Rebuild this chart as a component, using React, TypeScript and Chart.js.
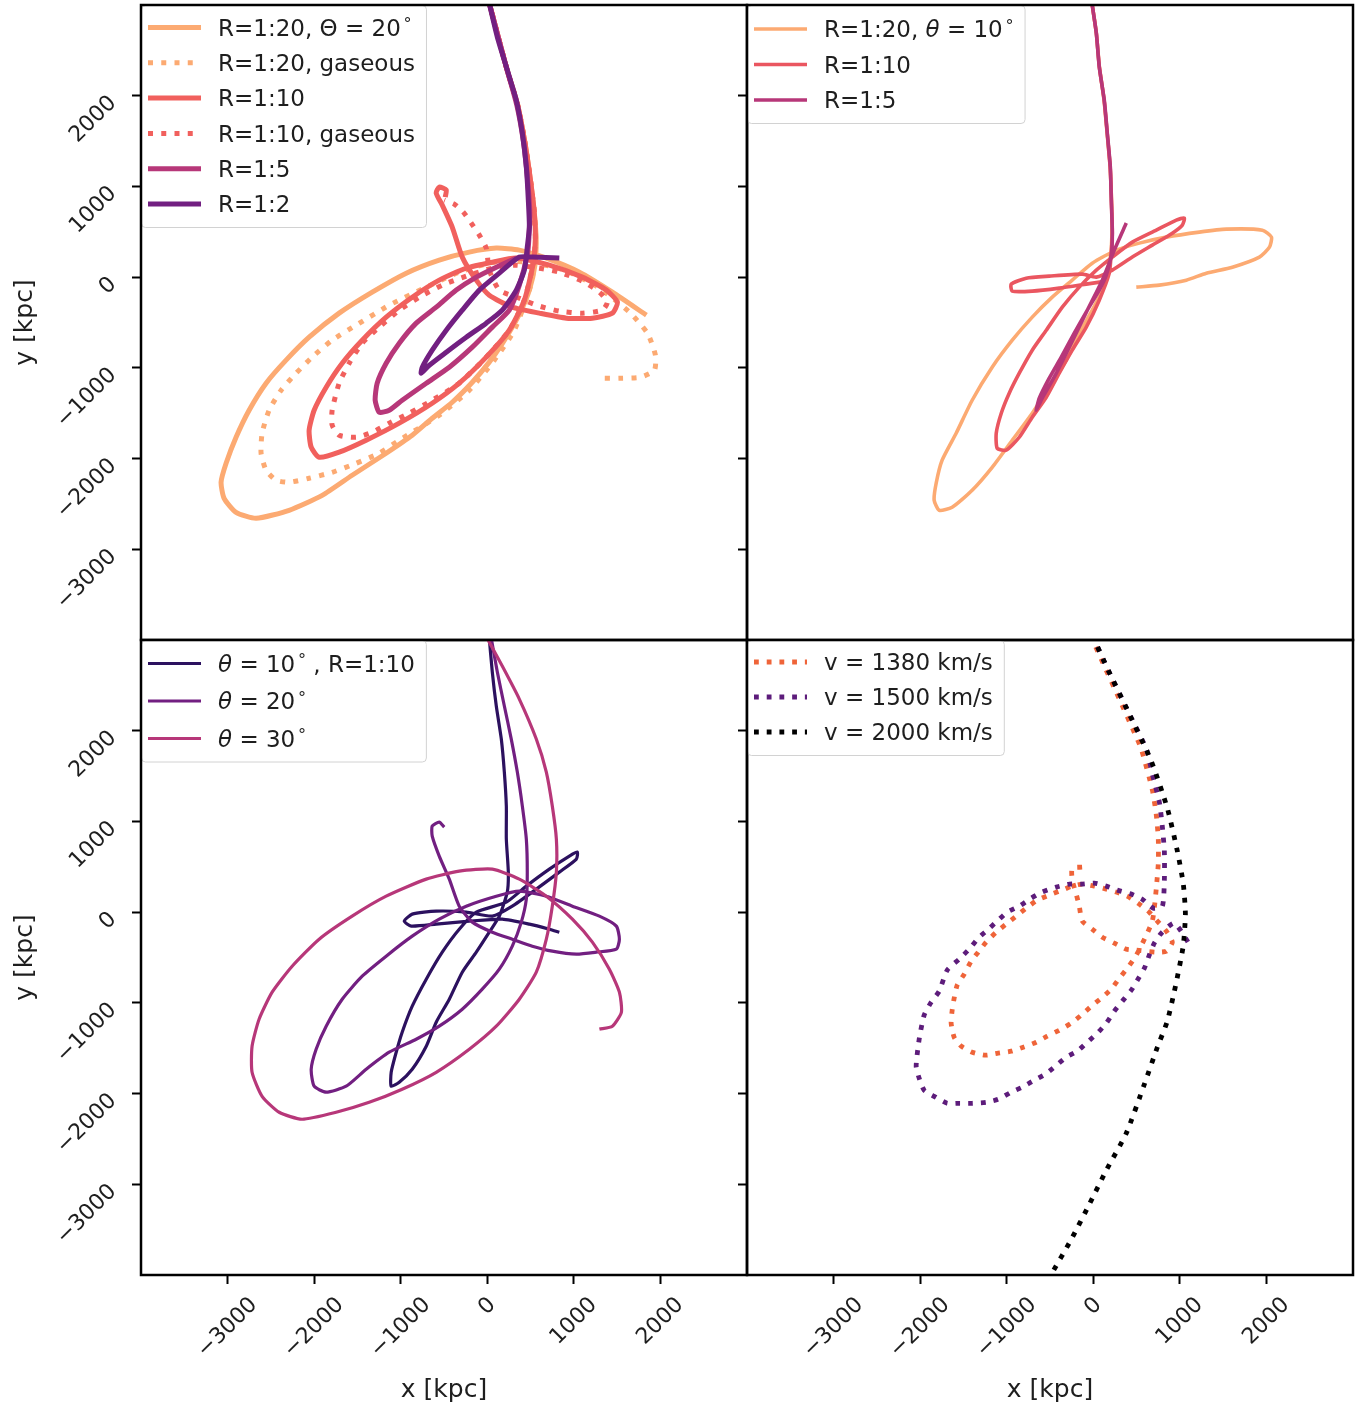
import React, { useEffect, useRef } from "react";
import { Chart, registerables } from "chart.js";

Chart.register(...registerables);

const FONT = "'DejaVu Sans', 'Liberation Sans', sans-serif";
const W = 1358;
const H = 1410;
const AXIS_MIN = -4000;
const AXIS_MAX = 3000;
const TICK_VALUES = [-3000, -2000, -1000, 0, 1000, 2000];
const X_TITLE = "x [kpc]";
const Y_TITLE = "y [kpc]";

type Pt = [number, number];

// ---------- top-left panel: mass ratio, Θ = 20° ----------
const TL_LABELS = ["R=1:20, Θ = 20°", "R=1:20, gaseous", "R=1:10", "R=1:10, gaseous", "R=1:5", "R=1:2"];
const TL_R20: Pt[] = [[15,3050],[120,2670],[230,2280],[350,1900],[430,1510],[490,1130],[540,740],[565,410],[550,130],[486,-143],[393,-364],[289,-551],[162,-750],[23,-937],[-173,-1158],[-405,-1379],[-636,-1555],[-867,-1743],[-1168,-1941],[-1561,-2184],[-1907,-2405],[-2289,-2570],[-2670,-2658],[-2902,-2592],[-3040,-2438],[-3075,-2261],[-3017,-2052],[-2902,-1765],[-2751,-1467],[-2555,-1169],[-2324,-915],[-2058,-662],[-1711,-397],[-1329,-165],[-936,44],[-555,188],[-208,276],[104,320],[370,298],[682,210],[1064,55],[1445,-165],[1838,-419]];
const TL_R20_GAS: Pt[] = [[15,3050],[120,2670],[230,2280],[350,1900],[430,1510],[490,1130],[540,740],[560,410],[545,130],[486,-143],[312,-585],[81,-916],[-208,-1246],[-555,-1522],[-1017,-1798],[-1248,-1941],[-1514,-2052],[-1792,-2151],[-2058,-2217],[-2289,-2261],[-2439,-2239],[-2555,-2129],[-2613,-1941],[-2601,-1721],[-2520,-1467],[-2381,-1246],[-2208,-1059],[-2023,-882],[-1792,-695],[-1514,-529],[-1133,-309],[-728,-121],[-324,55],[81,165],[486,165],[890,77],[1295,-121],[1642,-386],[1850,-618],[1942,-860],[1931,-1026],[1769,-1103],[1526,-1114],[1329,-1114]];
const TL_R10: Pt[] = [[15,3050],[120,2670],[230,2280],[350,1900],[430,1510],[490,1130],[540,740],[555,420],[530,150],[428,-254],[254,-585],[-12,-882],[-324,-1169],[-636,-1390],[-1017,-1610],[-1399,-1798],[-1711,-1930],[-1942,-1985],[-2034,-1875],[-2058,-1688],[-2000,-1467],[-1861,-1213],[-1676,-949],[-1445,-695],[-1168,-441],[-867,-221],[-555,-33],[-243,99],[58,165],[335,210],[717,132],[1098,0],[1376,-143],[1503,-276],[1445,-397],[1214,-452],[913,-452],[601,-397],[289,-331],[23,-199],[-127,-33],[-289,221],[-405,552],[-520,794],[-590,927],[-555,993],[-474,960],[-486,882]];
const TL_R10_GAS: Pt[] = [[15,3050],[120,2670],[230,2280],[350,1900],[430,1510],[490,1130],[540,740],[555,420],[530,150],[428,-254],[254,-585],[-12,-882],[-324,-1169],[-636,-1357],[-902,-1500],[-1133,-1610],[-1329,-1710],[-1514,-1765],[-1711,-1743],[-1792,-1632],[-1792,-1467],[-1711,-1169],[-1595,-949],[-1445,-728],[-1248,-551],[-1017,-364],[-786,-221],[-520,-88],[-243,11],[58,99],[312,132],[601,99],[832,55],[1098,-44],[1295,-165],[1387,-276],[1329,-364],[1098,-397],[832,-375],[566,-309],[370,-232],[139,-143],[23,77],[-12,320],[-92,463],[-185,596],[-277,717],[-381,805],[-497,849]];
const TL_R5: Pt[] = [[15,3050],[120,2670],[230,2280],[340,1900],[415,1510],[460,1130],[490,740],[480,420],[462,243],[370,-88],[254,-364],[58,-551],[-173,-772],[-439,-993],[-705,-1169],[-983,-1357],[-1133,-1467],[-1248,-1489],[-1295,-1357],[-1272,-1169],[-1168,-949],[-1017,-728],[-821,-507],[-590,-331],[-358,-143],[-127,0],[104,110],[335,210]];
const TL_R2: Pt[] = [[15,3050],[116,2647],[231,2283],[335,1952],[405,1588],[451,1213],[474,849],[486,552],[462,331],[428,77],[335,-143],[173,-364],[-12,-507],[-243,-662],[-474,-827],[-670,-971],[-763,-1059],[-751,-993],[-636,-805],[-474,-585],[-289,-364],[-92,-143],[139,44],[370,221],[520,221],[832,210]];

// ---------- top-right panel: mass ratio, θ = 10° ----------
const TR_LABELS = ["R=1:20, θ = 10°", "R=1:10", "R=1:5"];
const TR_R20: Pt[] = [[-20,3050],[35,2690],[70,2320],[125,1950],[160,1590],[195,1210],[210,850],[215,490],[200,240],[104,-143],[-12,-364],[-162,-618],[-312,-915],[-509,-1213],[-705,-1500],[-936,-1798],[-1168,-2096],[-1399,-2349],[-1630,-2537],[-1780,-2570],[-1838,-2460],[-1815,-2272],[-1746,-2018],[-1584,-1721],[-1399,-1357],[-1168,-993],[-936,-695],[-705,-441],[-474,-221],[-243,-33],[-12,154],[266,298],[532,375],[844,441],[1225,496],[1537,529],[1954,518],[2058,441],[2035,331],[1919,221],[1607,110],[1306,44],[1075,-33],[763,-88],[497,-110]];
const TR_R10: Pt[] = [[-20,3050],[35,2690],[70,2320],[125,1950],[160,1590],[195,1210],[210,850],[220,490],[205,240],[185,44],[69,-254],[-81,-551],[-243,-805],[-393,-1059],[-543,-1324],[-705,-1544],[-855,-1765],[-1006,-1908],[-1110,-1886],[-1121,-1721],[-1063,-1500],[-971,-1279],[-855,-1059],[-705,-805],[-543,-585],[-358,-331],[-162,-110],[35,77],[220,221],[451,386],[728,518],[959,629],[1052,651],[1029,574],[913,485],[682,353],[451,221],[220,77],[35,0],[-127,33],[-509,11],[-775,-11],[-948,-77],[-936,-154],[-705,-154],[-393,-121],[-81,-77],[150,-44]];
const TR_R5: Pt[] = [[-20,3050],[35,2691],[69,2316],[127,1952],[162,1588],[197,1213],[208,849],[220,485],[208,243],[150,22],[69,-143],[-69,-364],[-220,-618],[-370,-882],[-509,-1114],[-624,-1335],[-659,-1467],[-590,-1335],[-439,-1081],[-254,-728],[-69,-364],[104,-33],[243,298],[381,596]];

// ---------- bottom-left panel: angle, R = 1:10 ----------
const BL_LABELS = ["θ = 10° , R=1:10", "θ = 20°", "θ = 30°"];
const BL_T10: Pt[] = [[20,3050],[58,2647],[104,2272],[162,1908],[197,1544],[220,1169],[220,805],[243,441],[231,221],[139,-44],[23,-221],[-127,-441],[-289,-662],[-439,-960],[-590,-1213],[-705,-1478],[-867,-1732],[-1017,-1875],[-1110,-1919],[-1110,-1765],[-1052,-1544],[-983,-1324],[-867,-1037],[-705,-739],[-520,-441],[-324,-188],[-127,0],[220,110],[451,287],[717,474],[948,618],[1040,662],[1029,585],[832,441],[566,254],[289,66],[58,-44],[-243,0],[-590,11],[-867,-22],[-959,-99],[-879,-154],[-590,-132],[-208,-99],[173,-77],[486,-132],[717,-188],[832,-221]];
const BL_T20: Pt[] = [[40,3050],[116,2647],[197,2272],[277,1908],[347,1544],[405,1169],[451,805],[462,441],[451,143],[393,-110],[289,-375],[139,-629],[-58,-849],[-289,-1070],[-555,-1257],[-821,-1401],[-1133,-1544],[-1399,-1732],[-1630,-1919],[-1861,-1985],[-2000,-1919],[-2034,-1732],[-1977,-1511],[-1861,-1257],[-1676,-960],[-1445,-706],[-1168,-485],[-867,-265],[-555,-77],[-243,66],[104,176],[370,232],[682,176],[983,66],[1295,-44],[1491,-154],[1526,-298],[1491,-408],[1260,-441],[1029,-463],[751,-430],[520,-375],[289,-298],[58,-221],[-173,-110],[-324,66],[-439,364],[-555,618],[-636,838],[-636,949],[-555,993],[-497,938]];
const BL_T30: Pt[] = [[-20,3050],[173,2713],[370,2349],[566,1908],[682,1544],[751,1169],[798,805],[798,441],[751,66],[682,-298],[566,-662],[370,-960],[104,-1257],[-208,-1511],[-590,-1765],[-983,-1952],[-1364,-2096],[-1746,-2206],[-2139,-2283],[-2404,-2206],[-2601,-2030],[-2717,-1765],[-2717,-1478],[-2636,-1180],[-2485,-882],[-2254,-596],[-1942,-298],[-1561,-44],[-1168,176],[-705,364],[-324,452],[58,474],[370,364],[682,176],[983,-77],[1214,-331],[1410,-629],[1526,-882],[1549,-1103],[1445,-1257],[1295,-1290]];

// ---------- bottom-right panel: initial velocity ----------
const BR_LABELS = ["v = 1380 km/s", "v = 1500 km/s", "v = 2000 km/s"];
const BR_V1380: Pt[] = [[-30,3050],[127,2713],[301,2349],[497,1930],[555,1798],[682,1346],[728,1070],[751,805],[751,540],[728,265],[705,44],[682,-99],[624,-232],[497,-474],[393,-618],[301,-728],[208,-849],[92,-949],[-23,-1037],[-139,-1136],[-254,-1224],[-393,-1302],[-532,-1368],[-659,-1434],[-809,-1489],[-948,-1533],[-1098,-1555],[-1248,-1577],[-1399,-1544],[-1526,-1478],[-1607,-1379],[-1642,-1224],[-1630,-1081],[-1607,-949],[-1572,-805],[-1491,-684],[-1410,-540],[-1329,-441],[-1237,-331],[-1121,-221],[-1006,-132],[-890,-44],[-775,44],[-647,132],[-509,188],[-358,243],[-243,287],[-127,309],[12,287],[150,254],[266,221],[393,176],[532,88],[647,0],[740,-99],[844,-210],[913,-331],[844,-430],[728,-441],[497,-419],[381,-408],[243,-342],[104,-276],[-12,-188],[-127,-99],[-162,66],[-197,199],[-243,353],[-243,485],[-127,496]];
const BR_V1500: Pt[] = [[-10,3050],[150,2713],[405,2206],[613,1798],[682,1522],[763,1213],[798,938],[821,673],[821,353],[798,66],[694,44],[566,143],[439,199],[277,243],[150,287],[12,320],[-139,309],[-277,309],[-428,276],[-590,221],[-717,154],[-855,66],[-994,0],[-1110,-99],[-1225,-199],[-1329,-287],[-1433,-408],[-1549,-518],[-1688,-640],[-1780,-871],[-1873,-993],[-1954,-1136],[-2011,-1401],[-2046,-1699],[-2011,-1831],[-1954,-1963],[-1838,-2030],[-1688,-2107],[-1549,-2107],[-1399,-2107],[-1237,-2096],[-1098,-2063],[-948,-1985],[-821,-1930],[-682,-1853],[-555,-1787],[-439,-1699],[-312,-1599],[-185,-1533],[-69,-1434],[46,-1335],[150,-1224],[243,-1092],[335,-982],[439,-860],[509,-750],[590,-618],[647,-474],[705,-342],[786,-232],[936,-121],[1110,-353]];
const BR_V2000: Pt[] = [[-10,3050],[150,2713],[405,2206],[670,1665],[855,1147],[971,673],[1040,309],[1064,-22],[1040,-364],[959,-772],[855,-1202],[740,-1489],[590,-1897],[381,-2438],[150,-2846],[-46,-3221],[-254,-3607],[-486,-3993],[-540,-4080]];

// ---------- styling / layout ----------
type SeriesDef = { label: string; data: Pt[]; color: string; width: number; dotted?: boolean };
type PanelDef = {
  series: SeriesDef[];
  area: { left: number; top: number; right: number; bottom: number };
  yLabels: boolean;
  xAxis: boolean;
  legendFirst: number;
  legendStep: number;
};

const PEACH = "#fcaa72";
const CORAL = "#f1605d";
const MAGENTA = "#b73779";
const PURPLE = "#721f81";
const INDIGO = "#2c115f";

const PANELS: PanelDef[] = [
  {
    series: [
      { label: TL_LABELS[0], data: TL_R20, color: PEACH, width: 5 },
      { label: TL_LABELS[1], data: TL_R20_GAS, color: PEACH, width: 5, dotted: true },
      { label: TL_LABELS[2], data: TL_R10, color: CORAL, width: 5 },
      { label: TL_LABELS[3], data: TL_R10_GAS, color: CORAL, width: 5, dotted: true },
      { label: TL_LABELS[4], data: TL_R5, color: MAGENTA, width: 5 },
      { label: TL_LABELS[5], data: TL_R2, color: PURPLE, width: 5 },
    ],
    area: { left: 141, top: 5, right: 747, bottom: 640 },
    yLabels: true, xAxis: false, legendFirst: 22.5, legendStep: 35.3,
  },
  {
    series: [
      { label: TR_LABELS[0], data: TR_R20, color: PEACH, width: 3.6 },
      { label: TR_LABELS[1], data: TR_R10, color: "#ea5660", width: 3.6 },
      { label: TR_LABELS[2], data: TR_R5, color: MAGENTA, width: 3.6 },
    ],
    area: { left: 747, top: 5, right: 1353, bottom: 640 },
    yLabels: false, xAxis: false, legendFirst: 24, legendStep: 35.5,
  },
  {
    series: [
      { label: BL_LABELS[0], data: BL_T10, color: INDIGO, width: 3.2 },
      { label: BL_LABELS[1], data: BL_T20, color: PURPLE, width: 3.2 },
      { label: BL_LABELS[2], data: BL_T30, color: MAGENTA, width: 3.2 },
    ],
    area: { left: 141, top: 640, right: 747, bottom: 1275 },
    yLabels: true, xAxis: true, legendFirst: 23.5, legendStep: 37.5,
  },
  {
    series: [
      { label: BR_LABELS[0], data: BR_V1380, color: "#ef6439", width: 4.8, dotted: true },
      { label: BR_LABELS[1], data: BR_V1500, color: "#5d1c7b", width: 4.8, dotted: true },
      { label: BR_LABELS[2], data: BR_V2000, color: "#000000", width: 4.8, dotted: true },
    ],
    area: { left: 747, top: 640, right: 1353, bottom: 1275 },
    yLabels: false, xAxis: true, legendFirst: 22, legendStep: 35,
  },
];

const TEXT_COLOR = "#1e1e1e";
const LEGEND_FS = 23;
const TICK_FS = 22;
const TITLE_FS = 25;

function fmtTick(v: number): string {
  return v < 0 ? "\u2212" + Math.abs(v) : String(v);
}

type Run = { t: string; k: "n" | "i" | "s" };
function richRuns(text: string): Run[] {
  const runs: Run[] = [];
  let buf = "";
  for (const ch of text) {
    if (ch === "θ" || ch === "°") {
      if (buf) runs.push({ t: buf, k: "n" });
      buf = "";
      runs.push({ t: ch, k: ch === "θ" ? "i" : "s" });
    } else buf += ch;
  }
  if (buf) runs.push({ t: buf, k: "n" });
  return runs;
}

function drawRich(ctx: CanvasRenderingContext2D, text: string, x: number, y: number, size: number, draw: boolean): number {
  let cx = x;
  for (const r of richRuns(text)) {
    if (r.k === "s") {
      cx += size * 0.12;
      ctx.font = `${size * 0.7}px ${FONT}`;
      if (draw) ctx.fillText(r.t, cx, y - size * 0.28);
      cx += ctx.measureText(r.t).width;
    } else {
      ctx.font = `${r.k === "i" ? "italic " : ""}${size}px ${FONT}`;
      if (draw) ctx.fillText(r.t, cx, y);
      cx += ctx.measureText(r.t).width;
    }
  }
  return cx - x;
}

function dashFor(s: SeriesDef): number[] {
  return s.dotted ? [s.width, s.width * 1.65] : [];
}

function makeDecor(p: PanelDef) {
  return {
    id: "panelDecor",
    afterDatasetsDraw(chart: any) {
      const ctx: CanvasRenderingContext2D = chart.ctx;
      const a = chart.chartArea;
      ctx.save();
      ctx.textAlign = "left";
      ctx.textBaseline = "alphabetic";
      let maxW = 0;
      for (const s of p.series) maxW = Math.max(maxW, drawRich(ctx, s.label, 0, 0, LEGEND_FS, false));
      const bx = a.left + 0.5;
      const by = a.top + 0.5;
      const bw = 77 + maxW + 11;
      const bh = p.legendFirst + p.legendStep * (p.series.length - 1) + 23;
      const r = 4;
      ctx.beginPath();
      ctx.moveTo(bx + r, by);
      ctx.lineTo(bx + bw - r, by);
      ctx.quadraticCurveTo(bx + bw, by, bx + bw, by + r);
      ctx.lineTo(bx + bw, by + bh - r);
      ctx.quadraticCurveTo(bx + bw, by + bh, bx + bw - r, by + bh);
      ctx.lineTo(bx + r, by + bh);
      ctx.quadraticCurveTo(bx, by + bh, bx, by + bh - r);
      ctx.lineTo(bx, by + r);
      ctx.quadraticCurveTo(bx, by, bx + r, by);
      ctx.closePath();
      ctx.fillStyle = "rgba(255,255,255,0.8)";
      ctx.fill();
      ctx.strokeStyle = "#d2d2d2";
      ctx.lineWidth = 1;
      ctx.stroke();
      p.series.forEach((s, i) => {
        const ry = a.top + p.legendFirst + p.legendStep * i;
        ctx.beginPath();
        ctx.setLineDash(dashFor(s));
        ctx.lineCap = "butt";
        ctx.lineWidth = s.width;
        ctx.strokeStyle = s.color;
        ctx.moveTo(a.left + 7, ry);
        ctx.lineTo(a.left + 60, ry);
        ctx.stroke();
        ctx.setLineDash([]);
        ctx.fillStyle = TEXT_COLOR;
        drawRich(ctx, s.label, a.left + 77, ry + LEGEND_FS * 0.365, LEGEND_FS, true);
      });
      ctx.setLineDash([]);
      ctx.strokeStyle = "#000";
      ctx.lineWidth = 2.5;
      ctx.strokeRect(a.left, a.top, a.right - a.left, a.bottom - a.top);
      ctx.restore();
    },
    afterDraw(chart: any) {
      if (!p.xAxis) return;
      const ctx: CanvasRenderingContext2D = chart.ctx;
      const xs = chart.scales.x;
      const a = chart.chartArea;
      ctx.save();
      ctx.font = `${TICK_FS}px ${FONT}`;
      ctx.fillStyle = TEXT_COLOR;
      ctx.textAlign = "center";
      ctx.textBaseline = "middle";
      for (const t of xs.ticks) {
        const label = fmtTick(t.value);
        const w = ctx.measureText(label).width;
        const h = TICK_FS * 0.73;
        const px = xs.getPixelForValue(t.value);
        const cy = a.bottom + 21 + (w + h) * 0.3536;
        ctx.save();
        ctx.translate(px, cy);
        ctx.rotate(-Math.PI / 4);
        ctx.fillText(label, 0, 0);
        ctx.restore();
      }
      ctx.restore();
    },
  };
}

function makeChart(canvas: HTMLCanvasElement, p: PanelDef): Chart {
  const yW = p.yLabels ? p.area.left : 10;
  const xH = p.xAxis ? H - p.area.bottom : 0;
  const setTicks = (scale: any) => {
    scale.ticks = TICK_VALUES.map((v) => ({ value: v }));
  };
  const tickGrid = {
    display: true,
    drawOnChartArea: false,
    drawTicks: true,
    tickLength: 9,
    tickWidth: 2,
    tickColor: "#000",
  };
  const config: any = {
    type: "scatter",
    data: {
      datasets: p.series.map((s, i) => ({
        label: s.label,
        data: s.data.map(([x, y]) => ({ x, y })),
        borderColor: s.color,
        backgroundColor: s.color,
        borderWidth: s.width,
        borderDash: dashFor(s),
        borderCapStyle: "butt",
        borderJoinStyle: "round",
        pointRadius: 0,
        pointHoverRadius: 0,
        showLine: true,
        fill: false,
        tension: 0.2,
        clip: 0,
        order: -i,
      })),
    },
    options: {
      responsive: false,
      maintainAspectRatio: false,
      animation: false,
      devicePixelRatio: 1,
      events: [],
      layout: {
        padding: {
          left: p.area.left - yW,
          top: p.area.top,
          right: W - p.area.right,
          bottom: H - p.area.bottom - xH,
        },
      },
      plugins: { legend: { display: false }, tooltip: { enabled: false }, title: { display: false } },
      scales: {
        x: {
          type: "linear",
          min: AXIS_MIN,
          max: AXIS_MAX,
          display: p.xAxis,
          afterBuildTicks: setTicks,
          ticks: { display: false },
          grid: tickGrid,
          border: { display: false },
          title: {
            display: p.xAxis,
            text: X_TITLE,
            color: TEXT_COLOR,
            font: { family: FONT, size: TITLE_FS },
            padding: { top: 0, bottom: 5 },
          },
          afterFit: (s: any) => {
            if (p.xAxis) s.height = xH;
            s.paddingLeft = 0;
            s.paddingRight = 0;
          },
        },
        y: {
          type: "linear",
          min: AXIS_MIN,
          max: AXIS_MAX,
          display: true,
          afterBuildTicks: setTicks,
          ticks: {
            display: p.yLabels,
            minRotation: 45,
            maxRotation: 45,
            padding: 19,
            labelOffset: 4,
            color: TEXT_COLOR,
            font: { family: FONT, size: TICK_FS },
            callback: (v: number) => fmtTick(v),
          },
          grid: tickGrid,
          border: { display: false },
          title: {
            display: p.yLabels,
            text: Y_TITLE,
            color: TEXT_COLOR,
            font: { family: FONT, size: TITLE_FS },
            padding: { top: 10, bottom: 0 },
          },
          afterFit: (s: any) => {
            s.width = yW;
            s.paddingTop = 0;
            s.paddingBottom = 0;
          },
        },
      },
    },
    plugins: [makeDecor(p)],
  };
  return new Chart(canvas, config);
}

export default function App() {
  const canvases = useRef<(HTMLCanvasElement | null)[]>([]);
  useEffect(() => {
    const charts = PANELS.map((p, i) => makeChart(canvases.current[i] as HTMLCanvasElement, p));
    return () => charts.forEach((c) => c.destroy());
  }, []);
  return (
    <div style={{ position: "absolute", left: 0, top: 0, width: W, height: H, background: "#fff" }}>
      {PANELS.map((_, i) => (
        <canvas
          key={i}
          ref={(el) => {
            canvases.current[i] = el;
          }}
          width={W}
          height={H}
          style={{ position: "absolute", left: 0, top: 0, width: W, height: H }}
        />
      ))}
    </div>
  );
}
